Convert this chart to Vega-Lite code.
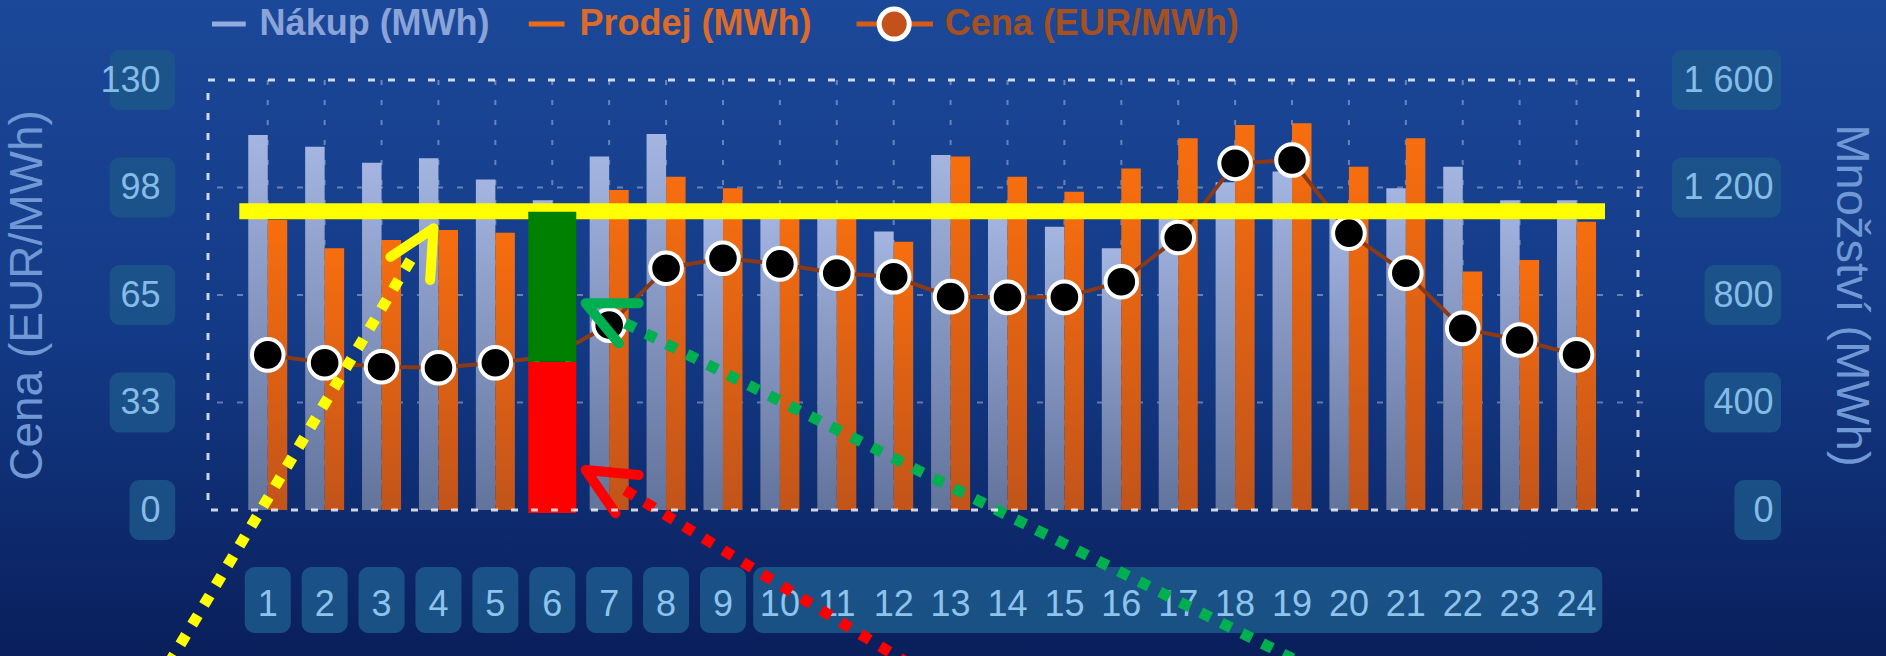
{
  "$schema": "https://vega.github.io/schema/vega-lite/v6.json",
  "width": 1440,
  "height": 430,
  "autosize": {"type": "none"},
  "padding": {"left": 203, "top": 80, "right": 243, "bottom": 146},
  "background": "#12367e",
  "config": {
    "view": {"stroke": null},
    "font": "Liberation Sans",
    "axis": {"labelFont": "Liberation Sans", "titleFont": "Liberation Sans"},
    "text": {"font": "Liberation Sans"}
  },
  "datasets": {
    "hours": [
      {"hour": 1, "nakup": 1395, "prodej": 1079, "cena": 46.9},
      {"hour": 2, "nakup": 1352, "prodej": 974, "cena": 44.5},
      {"hour": 3, "nakup": 1292, "prodej": 1005, "cena": 43.3},
      {"hour": 4, "nakup": 1309, "prodej": 1042, "cena": 43.0},
      {"hour": 5, "nakup": 1230, "prodej": 1032, "cena": 44.5},
      {"hour": 6, "nakup": 1153, "prodej": 1100, "cena": 46.5},
      {"hour": 7, "nakup": 1315, "prodej": 1191, "cena": 55.9},
      {"hour": 8, "nakup": 1399, "prodej": 1240, "cena": 73.1},
      {"hour": 9, "nakup": 1095, "prodej": 1197, "cena": 76.1},
      {"hour": 10, "nakup": 1110, "prodej": 1120, "cena": 74.4},
      {"hour": 11, "nakup": 1110, "prodej": 1115, "cena": 71.6},
      {"hour": 12, "nakup": 1036, "prodej": 998, "cena": 70.5},
      {"hour": 13, "nakup": 1321, "prodej": 1315, "cena": 64.5},
      {"hour": 14, "nakup": 1110, "prodej": 1240, "cena": 64.3},
      {"hour": 15, "nakup": 1054, "prodej": 1184, "cena": 64.3},
      {"hour": 16, "nakup": 974, "prodej": 1271, "cena": 69.0},
      {"hour": 17, "nakup": 1110, "prodej": 1383, "cena": 82.4},
      {"hour": 18, "nakup": 1220, "prodej": 1433, "cena": 104.8},
      {"hour": 19, "nakup": 1260, "prodej": 1439, "cena": 105.8},
      {"hour": 20, "nakup": 1100, "prodej": 1277, "cena": 83.7},
      {"hour": 21, "nakup": 1197, "prodej": 1383, "cena": 71.6},
      {"hour": 22, "nakup": 1277, "prodej": 887, "cena": 54.9},
      {"hour": 23, "nakup": 1153, "prodej": 930, "cena": 51.4},
      {"hour": 24, "nakup": 1153, "prodej": 1073, "cena": 46.9}
    ],
    "priceTicks": [{"v": 0}, {"v": 32.5}, {"v": 65}, {"v": 97.5}, {"v": 130}],
    "mwhTicks": [{"v": 0}, {"v": 400}, {"v": 800}, {"v": 1200}, {"v": 1600}],
    "arrowLines": [
      {"a": "yellow", "i": 0, "q": 3.51, "v": 930},
      {"a": "yellow", "i": 1, "q": -0.87, "v": -618},
      {"a": "red", "i": 0, "q": 7.28, "v": 74},
      {"a": "red", "i": 1, "q": 12.62, "v": -618},
      {"a": "green", "i": 0, "q": 7.285, "v": 695},
      {"a": "green", "i": 1, "q": 19.62, "v": -618}
    ],
    "arrowHeads": [
      {"a": "yellow", "i": 0, "q": 3.156, "v": 942},
      {"a": "yellow", "i": 1, "q": 3.912, "v": 1048},
      {"a": "yellow", "i": 2, "q": 3.854, "v": 856},
      {"a": "red", "i": 0, "q": 7.519, "v": 130},
      {"a": "red", "i": 1, "q": 6.587, "v": 149},
      {"a": "red", "i": 2, "q": 7.111, "v": -12},
      {"a": "green", "i": 0, "q": 7.519, "v": 769},
      {"a": "green", "i": 1, "q": 6.587, "v": 769},
      {"a": "green", "i": 2, "q": 7.17, "v": 620}
    ],
    "split": [
      {"hour": 6, "lo": -11, "hi": 552, "part": "dolní"},
      {"hour": 6, "lo": 552, "hi": 1110, "part": "horní"}
    ]
  },
  "layer": [
    {
      "data": {"values": [{}]},
      "mark": {"type": "rect", "fill": {"gradient": "linear", "x1": 0, "y1": 0, "x2": 0, "y2": 1, "stops": [{"offset": 0.07, "color": "#1c4899"}, {"offset": 0.5, "color": "#133a86"}, {"offset": 0.91, "color": "#0a1f5c"}]}},
      "encoding": {
        "x": {"datum": -5, "type": "quantitative", "scale": {"domain": [-0.05, 25.08], "nice": false, "zero": false}, "axis": null},
        "x2": {"datum": 31},
        "y": {"datum": 2100, "type": "quantitative", "scale": {"domain": [0, 1600], "nice": false, "zero": false}, "axis": null},
        "y2": {"datum": -800}
      }
    },
    {
      "data": {"name": "hours"},
      "transform": [{"filter": "datum.hour <= 9"}],
      "mark": {"type": "bar", "width": 46, "cornerRadius": 10, "fill": "#1c5689", "fillOpacity": 0.9},
      "encoding": {
        "x": {"field": "hour", "type": "quantitative", "scale": {"domain": [-0.05, 25.08], "nice": false, "zero": false}, "axis": null},
        "y": {"datum": -212, "type": "quantitative", "scale": {"domain": [0, 1600], "nice": false, "zero": false}, "axis": null},
        "y2": {"datum": -458}
      }
    },
    {
      "data": {"values": [{}]},
      "mark": {"type": "rect", "cornerRadius": 10, "fill": "#1c5689", "fillOpacity": 0.9},
      "encoding": {
        "x": {"datum": 9.531, "type": "quantitative", "scale": {"domain": [-0.05, 25.08], "nice": false, "zero": false}, "axis": null},
        "x2": {"datum": 24.452},
        "y": {"datum": -212, "type": "quantitative", "scale": {"domain": [0, 1600], "nice": false, "zero": false}, "axis": null},
        "y2": {"datum": -458}
      }
    },
    {
      "data": {"name": "hours"},
      "mark": {"type": "text", "align": "center", "baseline": "middle", "fontSize": 36, "color": "#8ec3ec"},
      "encoding": {
        "x": {"field": "hour", "type": "quantitative", "scale": {"domain": [-0.05, 25.08], "nice": false, "zero": false}, "axis": null},
        "y": {"datum": -354, "type": "quantitative", "scale": {"domain": [0, 1600], "nice": false, "zero": false}, "axis": null},
        "text": {"field": "hour", "type": "quantitative", "format": "d"}
      }
    },
    {
      "data": {"name": "priceTicks"},
      "transform": [{"filter": "datum.v > 0"}],
      "mark": {"type": "rect", "cornerRadius": 10, "fill": "#1c5689", "fillOpacity": 0.85, "yOffset": -30, "y2Offset": 30},
      "encoding": {
        "x": {"datum": -1.778, "type": "quantitative", "scale": {"domain": [-0.05, 25.08], "nice": false, "zero": false}, "axis": null},
        "x2": {"datum": -0.626},
        "y": {"field": "v", "type": "quantitative", "scale": {"domain": [0, 130], "nice": false, "zero": false}, "axis": null},
        "y2": {"field": "v"}
      }
    },
    {
      "data": {"name": "priceTicks"},
      "transform": [{"filter": "datum.v == 0"}],
      "mark": {"type": "rect", "cornerRadius": 10, "fill": "#1c5689", "fillOpacity": 0.85, "yOffset": -30, "y2Offset": 30},
      "encoding": {
        "x": {"datum": -1.429, "type": "quantitative", "scale": {"domain": [-0.05, 25.08], "nice": false, "zero": false}, "axis": null},
        "x2": {"datum": -0.626},
        "y": {"field": "v", "type": "quantitative", "scale": {"domain": [0, 130], "nice": false, "zero": false}, "axis": null},
        "y2": {"field": "v"}
      }
    },
    {
      "data": {"name": "mwhTicks"},
      "transform": [{"filter": "datum.v >= 1200"}],
      "mark": {"type": "rect", "cornerRadius": 10, "fill": "#1c5689", "fillOpacity": 0.85, "yOffset": -30, "y2Offset": 30},
      "encoding": {
        "x": {"datum": 25.675, "type": "quantitative", "scale": {"domain": [-0.05, 25.08], "nice": false, "zero": false}, "axis": null},
        "x2": {"datum": 27.594},
        "y": {"field": "v", "type": "quantitative", "scale": {"domain": [0, 1600], "nice": false, "zero": false}, "axis": null},
        "y2": {"field": "v"}
      }
    },
    {
      "data": {"name": "mwhTicks"},
      "transform": [{"filter": "datum.v > 0 && datum.v < 1200"}],
      "mark": {"type": "rect", "cornerRadius": 10, "fill": "#1c5689", "fillOpacity": 0.85, "yOffset": -30, "y2Offset": 30},
      "encoding": {
        "x": {"datum": 26.25, "type": "quantitative", "scale": {"domain": [-0.05, 25.08], "nice": false, "zero": false}, "axis": null},
        "x2": {"datum": 27.594},
        "y": {"field": "v", "type": "quantitative", "scale": {"domain": [0, 1600], "nice": false, "zero": false}, "axis": null},
        "y2": {"field": "v"}
      }
    },
    {
      "data": {"name": "mwhTicks"},
      "transform": [{"filter": "datum.v == 0"}],
      "mark": {"type": "rect", "cornerRadius": 10, "fill": "#1c5689", "fillOpacity": 0.85, "yOffset": -30, "y2Offset": 30},
      "encoding": {
        "x": {"datum": 26.774, "type": "quantitative", "scale": {"domain": [-0.05, 25.08], "nice": false, "zero": false}, "axis": null},
        "x2": {"datum": 27.594},
        "y": {"field": "v", "type": "quantitative", "scale": {"domain": [0, 1600], "nice": false, "zero": false}, "axis": null},
        "y2": {"field": "v"}
      }
    },
    {
      "data": {"name": "hours"},
      "mark": {"type": "rule", "color": "#ffffff", "opacity": 0.35, "strokeWidth": 2, "strokeDash": [5, 15]},
      "encoding": {
        "x": {"field": "hour", "type": "quantitative", "scale": {"domain": [-0.05, 25.08], "nice": false, "zero": false}, "axis": null}
      }
    },
    {
      "data": {"name": "priceTicks"},
      "transform": [{"filter": "datum.v > 0 && datum.v < 130"}],
      "mark": {"type": "rule", "color": "#ffffff", "opacity": 0.35, "strokeWidth": 2, "strokeDash": [6, 14]},
      "encoding": {
        "y": {"field": "v", "type": "quantitative", "scale": {"domain": [0, 130], "nice": false, "zero": false}, "axis": null}
      }
    },
    {
      "data": {"name": "hours"},
      "mark": {"type": "bar", "width": 19.5, "xOffset": -9.75, "color": {"gradient": "linear", "x1": 0, "y1": 0, "x2": 0, "y2": 1, "stops": [{"offset": 0, "color": "#a3b5e0"}, {"offset": 1, "color": "#62739c"}]}},
      "encoding": {
        "x": {"field": "hour", "type": "quantitative", "scale": {"domain": [-0.05, 25.08], "nice": false, "zero": false}, "axis": null},
        "y": {"field": "nakup", "type": "quantitative", "scale": {"domain": [0, 1600], "nice": false, "zero": false},
          "axis": {"orient": "right", "values": [0, 400, 800, 1200, 1600], "labelExpr": "replace(format(datum.value, ','), ',', ' ')", "grid": false, "ticks": false, "tickSize": 0, "domain": false, "labelFontSize": 36, "labelColor": "#86bbe6", "labelAlign": "right", "labelBaseline": "middle", "labelPadding": 130, "labelFlush": false, "labelOverlap": false, "zindex": 1, "title": "Množství (MWh)", "titleFontSize": 47, "titleFontWeight": "normal", "titleColor": "#6f98d4", "titleAngle": 90, "titleX": 207, "titleY": 215, "titleAlign": "center", "titleBaseline": "middle"}}
      }
    },
    {
      "data": {"name": "hours"},
      "mark": {"type": "bar", "width": 19.5, "xOffset": 9.75, "color": {"gradient": "linear", "x1": 0, "y1": 0, "x2": 0, "y2": 1, "stops": [{"offset": 0, "color": "#f76e0e"}, {"offset": 1, "color": "#c2541a"}]}},
      "encoding": {
        "x": {"field": "hour", "type": "quantitative", "scale": {"domain": [-0.05, 25.08], "nice": false, "zero": false}, "axis": null},
        "y": {"field": "prodej", "type": "quantitative", "scale": {"domain": [0, 1600], "nice": false, "zero": false}, "axis": null}
      }
    },
    {
      "data": {"name": "hours"},
      "mark": {"type": "line", "color": "#8a3a16", "strokeWidth": 4},
      "encoding": {
        "x": {"field": "hour", "type": "quantitative", "scale": {"domain": [-0.05, 25.08], "nice": false, "zero": false}, "axis": null},
        "y": {"field": "cena", "type": "quantitative", "scale": {"domain": [0, 130], "nice": false, "zero": false},
          "axis": {"orient": "left", "values": [0, 32.5, 65, 97.5, 130], "format": ".0f", "grid": false, "ticks": false, "tickSize": 0, "domain": false, "labelFontSize": 36, "labelColor": "#86bbe6", "labelBaseline": "middle", "labelPadding": 43, "labelFlush": false, "labelOverlap": false, "zindex": 1, "title": "Cena (EUR/MWh)", "titleFontSize": 46, "titleFontWeight": "normal", "titleColor": "#6f98d4", "titleAngle": -90, "titleX": -176, "titleY": 215, "titleAlign": "center", "titleBaseline": "middle"}}
      }
    },
    {
      "data": {"name": "hours"},
      "mark": {"type": "point", "filled": true, "fill": "#000000", "stroke": "#ffffff", "strokeWidth": 4, "size": 1000, "opacity": 1},
      "encoding": {
        "x": {"field": "hour", "type": "quantitative", "scale": {"domain": [-0.05, 25.08], "nice": false, "zero": false}, "axis": null},
        "y": {"field": "cena", "type": "quantitative", "scale": {"domain": [0, 130], "nice": false, "zero": false}, "axis": null}
      }
    },
    {
      "data": {"values": [{}]},
      "mark": {"type": "rule", "color": "#ffff00", "strokeWidth": 16, "strokeCap": "butt"},
      "encoding": {
        "x": {"datum": 0.5, "type": "quantitative", "scale": {"domain": [-0.05, 25.08], "nice": false, "zero": false}, "axis": null},
        "x2": {"datum": 24.5},
        "y": {"datum": 1112, "type": "quantitative", "scale": {"domain": [0, 1600], "nice": false, "zero": false}, "axis": null}
      }
    },
    {
      "data": {"name": "split"},
      "mark": {"type": "bar", "width": 48},
      "encoding": {
        "x": {"field": "hour", "type": "quantitative", "scale": {"domain": [-0.05, 25.08], "nice": false, "zero": false}, "axis": null},
        "y": {"field": "lo", "type": "quantitative", "scale": {"domain": [0, 1600], "nice": false, "zero": false}, "axis": null},
        "y2": {"field": "hi"},
        "color": {"field": "part", "type": "nominal", "scale": {"domain": ["dolní", "horní"], "range": ["#ff0000", "#008000"]}, "legend": null}
      }
    },
    {
      "data": {"name": "arrowLines"},
      "mark": {"type": "line", "strokeWidth": 11, "strokeDash": [11, 12], "strokeCap": "butt"},
      "encoding": {
        "x": {"field": "q", "type": "quantitative", "scale": {"domain": [-0.05, 25.08], "nice": false, "zero": false}, "axis": null},
        "y": {"field": "v", "type": "quantitative", "scale": {"domain": [0, 1600], "nice": false, "zero": false}, "axis": null},
        "detail": {"field": "a"},
        "order": {"field": "i"},
        "color": {"field": "a", "type": "nominal", "scale": {"domain": ["yellow", "red", "green"], "range": ["#ffff00", "#ff0000", "#00b050"]}, "legend": null}
      }
    },
    {
      "data": {"name": "arrowHeads"},
      "mark": {"type": "line", "strokeWidth": 10, "strokeCap": "round", "strokeJoin": "round"},
      "encoding": {
        "x": {"field": "q", "type": "quantitative", "scale": {"domain": [-0.05, 25.08], "nice": false, "zero": false}, "axis": null},
        "y": {"field": "v", "type": "quantitative", "scale": {"domain": [0, 1600], "nice": false, "zero": false}, "axis": null},
        "detail": {"field": "a"},
        "order": {"field": "i"},
        "color": {"field": "a", "type": "nominal", "scale": {"domain": ["yellow", "red", "green"], "range": ["#ffff00", "#ff0000", "#00b050"]}, "legend": null}
      }
    },
    {
      "data": {"values": [{}]},
      "mark": {"type": "rect", "fillOpacity": 0, "stroke": "#ffffff", "strokeOpacity": 0.8, "strokeWidth": 3, "strokeDash": [7, 13]},
      "encoding": {
        "x": {"datum": -0.05, "type": "quantitative", "scale": {"domain": [-0.05, 25.08], "nice": false, "zero": false}, "axis": null},
        "x2": {"datum": 25.08},
        "y": {"datum": 0, "type": "quantitative", "scale": {"domain": [0, 1600], "nice": false, "zero": false}, "axis": null},
        "y2": {"datum": 1600}
      }
    },
    {
      "data": {"values": [{}]},
      "mark": {"type": "rule", "color": "#93abdf", "strokeWidth": 5},
      "encoding": {
        "x": {"datum": 0.02, "type": "quantitative", "scale": {"domain": [-0.05, 25.08], "nice": false, "zero": false}, "axis": null},
        "x2": {"datum": 0.613},
        "y": {"datum": 1808, "type": "quantitative", "scale": {"domain": [0, 1600], "nice": false, "zero": false}, "axis": null}
      }
    },
    {
      "data": {"values": [{}]},
      "mark": {"type": "rule", "color": "#f06a14", "strokeWidth": 5},
      "encoding": {
        "x": {"datum": 5.587, "type": "quantitative", "scale": {"domain": [-0.05, 25.08], "nice": false, "zero": false}, "axis": null},
        "x2": {"datum": 6.215},
        "y": {"datum": 1808, "type": "quantitative", "scale": {"domain": [0, 1600], "nice": false, "zero": false}, "axis": null}
      }
    },
    {
      "data": {"values": [{}]},
      "mark": {"type": "rule", "color": "#d85a18", "strokeWidth": 5},
      "encoding": {
        "x": {"datum": 11.346, "type": "quantitative", "scale": {"domain": [-0.05, 25.08], "nice": false, "zero": false}, "axis": null},
        "x2": {"datum": 12.69},
        "y": {"datum": 1808, "type": "quantitative", "scale": {"domain": [0, 1600], "nice": false, "zero": false}, "axis": null}
      }
    },
    {
      "data": {"values": [{}]},
      "mark": {"type": "point", "filled": true, "fill": "#c4501c", "stroke": "#ffffff", "strokeWidth": 5, "size": 900, "opacity": 1},
      "encoding": {
        "x": {"datum": 12.009, "type": "quantitative", "scale": {"domain": [-0.05, 25.08], "nice": false, "zero": false}, "axis": null},
        "y": {"datum": 1808, "type": "quantitative", "scale": {"domain": [0, 1600], "nice": false, "zero": false}, "axis": null}
      }
    },
    {
      "data": {"values": [{}]},
      "mark": {"type": "text", "align": "left", "baseline": "middle", "fontSize": 36, "fontWeight": "bold", "color": "#8aa3d8"},
      "encoding": {
        "x": {"datum": 0.857, "type": "quantitative", "scale": {"domain": [-0.05, 25.08], "nice": false, "zero": false}, "axis": null},
        "y": {"datum": 1808, "type": "quantitative", "scale": {"domain": [0, 1600], "nice": false, "zero": false}, "axis": null},
        "text": {"value": "Nákup (MWh)"}
      }
    },
    {
      "data": {"values": [{}]},
      "mark": {"type": "text", "align": "left", "baseline": "middle", "fontSize": 36, "fontWeight": "bold", "color": "#dc6a28"},
      "encoding": {
        "x": {"datum": 6.477, "type": "quantitative", "scale": {"domain": [-0.05, 25.08], "nice": false, "zero": false}, "axis": null},
        "y": {"datum": 1808, "type": "quantitative", "scale": {"domain": [0, 1600], "nice": false, "zero": false}, "axis": null},
        "text": {"value": "Prodej (MWh)"}
      }
    },
    {
      "data": {"values": [{}]},
      "mark": {"type": "text", "align": "left", "baseline": "middle", "fontSize": 36, "fontWeight": "bold", "color": "#a4501f"},
      "encoding": {
        "x": {"datum": 12.899, "type": "quantitative", "scale": {"domain": [-0.05, 25.08], "nice": false, "zero": false}, "axis": null},
        "y": {"datum": 1808, "type": "quantitative", "scale": {"domain": [0, 1600], "nice": false, "zero": false}, "axis": null},
        "text": {"value": "Cena (EUR/MWh)"}
      }
    }
  ],
  "resolve": {"scale": {"y": "independent", "color": "independent"}}
}
